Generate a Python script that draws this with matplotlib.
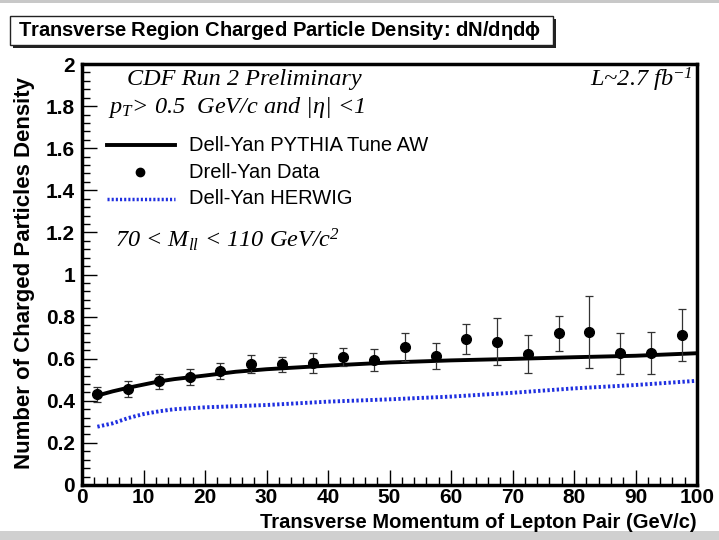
import matplotlib.pyplot as plt
from matplotlib.patches import Rectangle
from matplotlib.ticker import MultipleLocator

plt.rcParams['mathtext.fontset'] = 'custom'
plt.rcParams['mathtext.it'] = 'Liberation Serif:italic'
plt.rcParams['mathtext.rm'] = 'Liberation Serif:italic'
plt.rcParams['mathtext.default'] = 'it'

# data
pt_bins = [2.5, 7.5, 12.5, 17.5, 22.5, 27.5, 32.5, 37.5, 42.5, 47.5,
           52.5, 57.5, 62.5, 67.5, 72.5, 77.5, 82.5, 87.5, 92.5, 97.5]
data_vals = [0.430, 0.458, 0.493, 0.512, 0.540, 0.575, 0.573, 0.580, 0.608, 0.594,
             0.654, 0.614, 0.694, 0.681, 0.622, 0.720, 0.728, 0.625, 0.628, 0.713]
data_errs = [0.036, 0.038, 0.035, 0.039, 0.038, 0.041, 0.037, 0.048, 0.041, 0.054,
             0.066, 0.061, 0.072, 0.110, 0.091, 0.083, 0.170, 0.097, 0.100, 0.124]

pythia_x = [2.5, 5, 7.5, 10, 12.5, 15, 20, 25, 30, 40, 50, 60, 70, 80, 90, 100]
pythia_y = [0.425, 0.445, 0.462, 0.477, 0.492, 0.503, 0.520, 0.538, 0.550, 0.567,
            0.582, 0.592, 0.599, 0.607, 0.614, 0.626]

herwig_x = [2.5, 5, 7.5, 10, 12.5, 15, 20, 30, 40, 50, 60, 70, 80, 90, 100]
herwig_y = [0.277, 0.293, 0.318, 0.337, 0.350, 0.360, 0.369, 0.380, 0.396, 0.407,
            0.420, 0.438, 0.459, 0.475, 0.495]

x_ticks = [0, 10, 20, 30, 40, 50, 60, 70, 80, 90, 100]
y_ticks = [0, 0.2, 0.4, 0.6, 0.8, 1, 1.2, 1.4, 1.6, 1.8, 2]

sans = ['Liberation Sans Narrow', 'Liberation Sans', 'DejaVu Sans']
serif = ['Liberation Serif', 'DejaVu Serif']

fig = plt.figure(figsize=(7.19, 5.4), dpi=100)
ax = fig.add_axes([82/719, 1-485/540, (697-82)/719, (485-64)/540])

ax.plot(pythia_x, pythia_y, color='black', lw=2.8, solid_capstyle='butt')
ax.plot(herwig_x, herwig_y, color='#1f2fe0', lw=2.8, linestyle=(0, (0.6, 0.6)))
ax.errorbar(pt_bins, data_vals, yerr=data_errs, fmt='o', color='black', ms=7,
            ecolor='#333333', elinewidth=0.9, capsize=3, capthick=0.9)

ax.set_xlim(0, 100)
ax.set_ylim(0, 2)
ax.set_xticks(x_ticks)
ax.set_xticklabels([f'{v:g}' for v in x_ticks])
ax.set_yticks(y_ticks)
ax.set_yticklabels([f'{v:g}' for v in y_ticks])
ax.xaxis.set_minor_locator(MultipleLocator(2))
ax.yaxis.set_minor_locator(MultipleLocator(0.04))
ax.tick_params(which='both', direction='in', top=False, right=False, width=1)
ax.tick_params(which='major', length=11)
ax.tick_params(axis='x', which='major', pad=2)
ax.tick_params(axis='y', which='major', pad=5)
ax.tick_params(which='minor', length=6)
for s in ax.spines.values():
    s.set_linewidth(2.5)

for lab in ax.get_xticklabels() + ax.get_yticklabels():
    lab.set_family(sans)
    lab.set_fontweight('bold')
    lab.set_fontsize(15)

fig.text(697/719, 1-522/540, 'Transverse Momentum of Lepton Pair (GeV/c)',
         ha='right', va='center', family=sans, fontweight='bold', fontsize=14.5)
fig.text(25/719, 1-273/540, 'Number of Charged Particles Density', rotation=90,
         ha='center', va='center', family=sans, fontweight='bold', fontsize=16)

# annotations inside the frame
ax.text(127/719, 1-80/540, 'CDF Run 2 Preliminary', transform=fig.transFigure,
        family=serif, style='italic', fontsize=17.5, va='center')
ax.text(692/719, 1-80/540, r'L~2.7 fb$^{-1}$', transform=fig.transFigure,
        family=serif, style='italic', fontsize=17.5, va='center', ha='right')
ax.text(108/719, 1-108/540, r'p$_{T}$> 0.5  GeV/c and |$\eta$| <1', transform=fig.transFigure,
        family=serif, style='italic', fontsize=17.5, va='center')
ax.text(115/719, 1-240/540, r'70 < M$_{ll}$ < 110 GeV/c$^{2}$', transform=fig.transFigure,
        family=serif, style='italic', fontsize=17.5, va='center')

# hand-drawn legend like ROOT
ax.plot([107/719, 175/719], [1-145/540]*2, transform=fig.transFigure, color='black', lw=2.8)
ax.plot([140/719], [1-172/540], 'o', transform=fig.transFigure, color='black', ms=6)
ax.plot([107/719, 175/719], [1-199/540]*2, transform=fig.transFigure, color='#1f2fe0',
        lw=2.5, linestyle=(0, (0.6, 0.6)))
leg_labels = ['Dell-Yan PYTHIA Tune AW', 'Drell-Yan Data', 'Dell-Yan HERWIG']
for lab, yy in zip(leg_labels, [145, 172, 199]):
    ax.text(189/719, 1-yy/540, lab, transform=fig.transFigure, family=sans,
            fontsize=14.5, va='center')

# title box with shadow
fig.patches.append(Rectangle((13/719, 1-48/540), 543/719, 29/540, transform=fig.transFigure,
                             facecolor='#222222', edgecolor='none', zorder=1))
fig.patches.append(Rectangle((10/719, 1-45/540), 543/719, 29/540, transform=fig.transFigure,
                             facecolor='white', edgecolor='#222222', lw=1, zorder=2))
fig.text(279/719, 1-30.5/540, r'Transverse Region Charged Particle Density: dN/d$\mathregular{\eta}$d$\mathregular{\phi}$',
         ha='center', va='center', family=sans, fontweight='bold', fontsize=14.5, zorder=3)

# grey bands of the slide
fig.patches.append(Rectangle((0, 1-3/540), 1, 3/540, transform=fig.transFigure,
                             facecolor='#c8c8c8', edgecolor='none'))
fig.patches.append(Rectangle((0, 0), 1, 9/540, transform=fig.transFigure,
                             facecolor='#d0d0d0', edgecolor='none'))

fig.savefig('out.png', dpi=100)
